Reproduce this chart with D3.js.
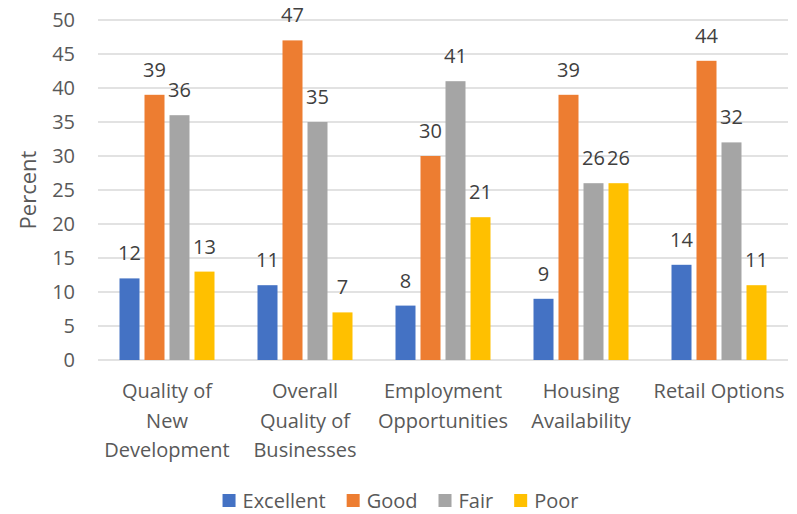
<!DOCTYPE html>
<html>
<head>
<meta charset="utf-8">
<script src="https://cdn.jsdelivr.net/npm/d3@7"></script>
<style>
  html, body { margin: 0; padding: 0; background: #fff; }
  svg { display: block; }
  text { font-family: "Open Sans", "Noto Sans", sans-serif; }
</style>
</head>
<body>
<script>
// Survey ratings by topic (percent of respondents)
const categories = [
  ["Quality of", "New", "Development"],
  ["Overall", "Quality of", "Businesses"],
  ["Employment", "Opportunities"],
  ["Housing", "Availability"],
  ["Retail Options"]
];
const seriesNames = ["Excellent", "Good", "Fair", "Poor"];
const seriesColors = ["#4472C4", "#ED7D31", "#A5A5A5", "#FFC000"];
const excellent = [12, 11, 8, 9, 14];
const good = [39, 47, 30, 39, 44];
const fair = [36, 35, 41, 26, 32];
const poor = [13, 7, 21, 26, 11];
const yTicks = [0, 5, 10, 15, 20, 25, 30, 35, 40, 45, 50];

const seriesValues = [excellent, good, fair, poor];

const W = 797, H = 514;
const margin = { left: 98, right: 9, top: 20, bottom: 154 };
const plotW = W - margin.left - margin.right;
const plotH = H - margin.top - margin.bottom;

const svg = d3.select("body").append("svg")
  .attr("width", W).attr("height", H);

const g = svg.append("g").attr("transform", `translate(${margin.left},${margin.top})`);

const groupW = 95;
const x0 = d3.scaleBand().domain(d3.range(categories.length)).range([0, plotW]);
const x1 = d3.scaleBand().domain(d3.range(seriesNames.length))
  .range([0, groupW]).paddingInner(0.2).paddingOuter(0);
// center the group of bars within each band
const groupOffset = (x0.bandwidth() - groupW) / 2;
const y = d3.scaleLinear().domain([0, 50]).range([plotH, 0]);

// gridlines
g.append("g").selectAll("line").data(yTicks).join("line")
  .attr("x1", 0).attr("x2", plotW)
  .attr("y1", d => y(d)).attr("y2", d => y(d))
  .attr("stroke", "#D9D9D9").attr("stroke-width", 1.5);

// y tick labels
const yAxis = d3.axisLeft(y).tickValues(yTicks).tickSize(0).tickPadding(23);
const ya = g.append("g").call(yAxis);
ya.select(".domain").remove();
ya.selectAll("text")
  .attr("fill", "#595959").style("font-size", "20px")
  .style("font-family", "'Open Sans', sans-serif");

// axis title
svg.append("text")
  .attr("transform", `translate(36,${margin.top + plotH / 2}) rotate(-90)`)
  .attr("text-anchor", "middle")
  .attr("fill", "#595959").style("font-size", "22px")
  .text("Percent");

// bars
const groups = g.selectAll("g.cat").data(categories).join("g")
  .attr("class", "cat")
  .attr("transform", (d, i) => `translate(${x0(i) + groupOffset},0)`);

groups.each(function (d, ci) {
  const sel = d3.select(this);
  seriesValues.forEach((vals, si) => {
    const v = vals[ci];
    sel.append("rect")
      .attr("x", x1(si)).attr("width", x1.bandwidth())
      .attr("y", y(v)).attr("height", y(0) - y(v))
      .attr("fill", seriesColors[si]);
    sel.append("text")
      .attr("x", x1(si) + x1.bandwidth() / 2)
      .attr("y", y(v) - 18)
      .attr("text-anchor", "middle")
      .attr("fill", "#404040").style("font-size", "20px")
      .text(v);
  });
});

// category labels
const catLabels = g.append("g").attr("transform", `translate(0,${plotH})`);
categories.forEach((lines, ci) => {
  const t = catLabels.append("text")
    .attr("x", x0(ci) + x0.bandwidth() / 2)
    .attr("y", 38)
    .attr("text-anchor", "middle")
    .attr("fill", "#595959").style("font-size", "20px");
  lines.forEach((ln, li) => {
    t.append("tspan").attr("x", x0(ci) + x0.bandwidth() / 2)
      .attr("dy", li === 0 ? 0 : 29.5).text(ln);
  });
});

// legend
const legend = svg.append("g");
let lx = 0;
seriesNames.forEach((name, i) => {
  const item = legend.append("g").attr("transform", `translate(${lx},0)`);
  item.append("rect").attr("x", 0).attr("y", -14).attr("width", 13).attr("height", 13)
    .attr("fill", seriesColors[i]);
  const t = item.append("text").attr("x", 20).attr("y", 0)
    .attr("fill", "#595959").style("font-size", "20px").text(name);
  lx += 20 + t.node().getComputedTextLength() + 21;
});
const legendW = lx - 21;
legend.attr("transform", `translate(${(W - legendW) / 2 + 2},508)`);
</script>
</body>
</html>
